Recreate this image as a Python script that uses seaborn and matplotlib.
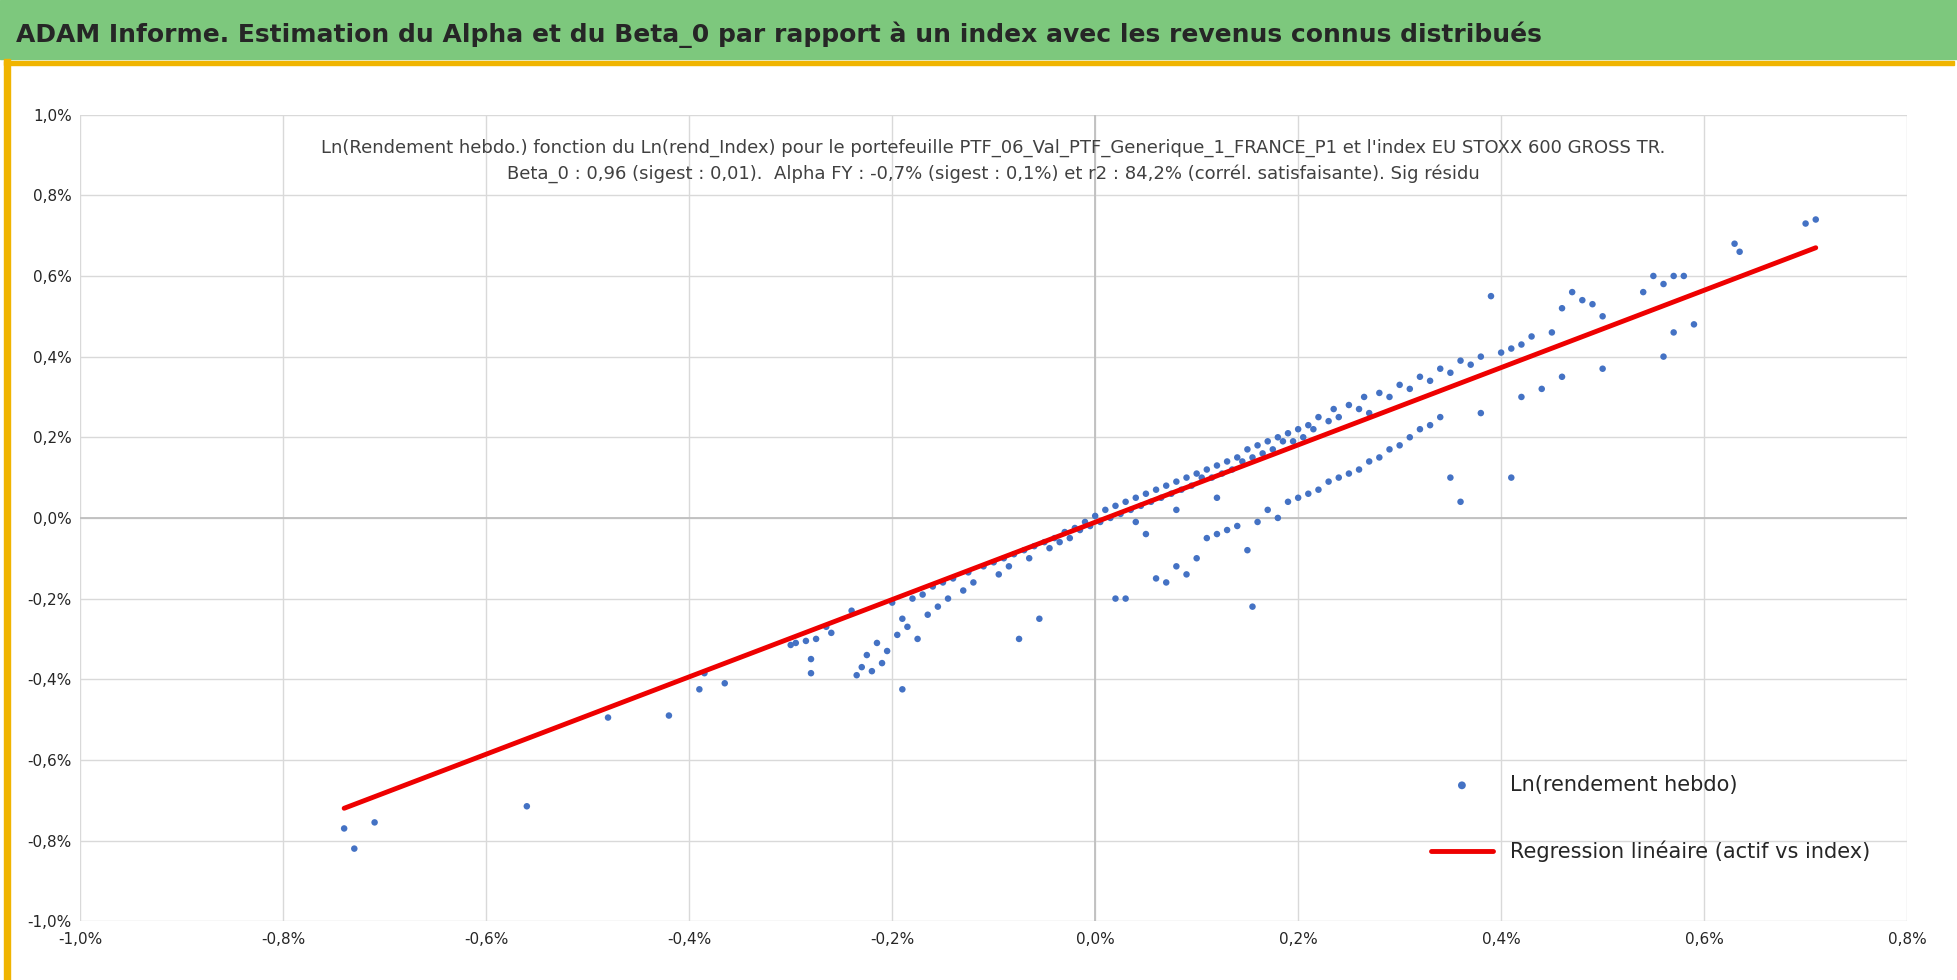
import matplotlib
matplotlib.use("Agg")
import matplotlib.pyplot as plt
import seaborn as sns
import pandas as pd
from matplotlib.ticker import FuncFormatter
from matplotlib.patches import Rectangle

# values in %
pts_x = [-0.74, -0.73, -0.71, -0.56, -0.48, -0.42, -0.39, -0.385, -0.365, -0.30, -0.295, -0.285, -0.28, -0.28, -0.275,
         -0.265, -0.26, -0.24, -0.235, -0.23, -0.225, -0.22, -0.215, -0.21, -0.205, -0.2, -0.195, -0.19, -0.19, -0.185,
         -0.18, -0.175, -0.17, -0.165, -0.16, -0.155, -0.15, -0.145, -0.14, -0.13, -0.125, -0.12, -0.11, -0.1, -0.095,
         -0.09, -0.085, -0.08, -0.075, -0.07, -0.065, -0.06, -0.055, -0.05, -0.045, -0.04, -0.035, -0.03, -0.025, -0.02,
         -0.015, -0.01, -0.005, 0.0, 0.005, 0.01, 0.015, 0.02, 0.02, 0.025, 0.03, 0.035, 0.04, 0.045, 0.05, 0.055, 0.06,
         0.065, 0.07, 0.075, 0.08, 0.085, 0.09, 0.095, 0.1, 0.105, 0.11, 0.115, 0.12, 0.125, 0.13, 0.135, 0.14, 0.145,
         0.15, 0.155, 0.16, 0.165, 0.17, 0.175, 0.18, 0.185, 0.19, 0.195, 0.2, 0.205, 0.21, 0.215, 0.22, 0.23, 0.235,
         0.24, 0.25, 0.26, 0.265, 0.27, 0.28, 0.29, 0.3, 0.31, 0.32, 0.33, 0.34, 0.35, 0.36, 0.37, 0.38, 0.39, 0.4, 0.41,
         0.42, 0.43, 0.45, 0.46, 0.47, 0.48, 0.49, 0.5, 0.54, 0.55, 0.56, 0.57, 0.58, 0.63, 0.635, 0.7, 0.71,
         0.03, 0.06, 0.07, 0.08, 0.09, 0.1, 0.11, 0.12, 0.13, 0.14, 0.15, 0.155, 0.16, 0.17, 0.18, 0.19, 0.2, 0.21, 0.22,
         0.23, 0.24, 0.25, 0.26, 0.27, 0.28, 0.29, 0.3, 0.31, 0.32, 0.33, 0.34, 0.35, 0.36, 0.38, 0.41, 0.42, 0.44, 0.46,
         0.5, 0.56, 0.57, 0.59, 0.04, 0.05, 0.08, 0.12]
pts_y = [-0.77, -0.82, -0.755, -0.715, -0.495, -0.49, -0.425, -0.385, -0.41, -0.315, -0.31, -0.305, -0.385, -0.35, -0.3,
         -0.27, -0.285, -0.23, -0.39, -0.37, -0.34, -0.38, -0.31, -0.36, -0.33, -0.21, -0.29, -0.425, -0.25, -0.27,
         -0.2, -0.3, -0.19, -0.24, -0.17, -0.22, -0.16, -0.2, -0.15, -0.18, -0.135, -0.16, -0.12, -0.11, -0.14,
         -0.1, -0.12, -0.09, -0.3, -0.08, -0.1, -0.07, -0.25, -0.06, -0.075, -0.05, -0.06, -0.035, -0.05, -0.025,
         -0.03, -0.01, -0.02, 0.005, -0.01, 0.02, 0.0, 0.03, -0.2, 0.01, 0.04, 0.02, 0.05, 0.03, 0.06, 0.04, 0.07,
         0.05, 0.08, 0.06, 0.09, 0.07, 0.1, 0.08, 0.11, 0.1, 0.12, 0.1, 0.13, 0.11, 0.14, 0.12, 0.15, 0.14,
         0.17, 0.15, 0.18, 0.16, 0.19, 0.17, 0.2, 0.19, 0.21, 0.19, 0.22, 0.2, 0.23, 0.22, 0.25, 0.24, 0.27,
         0.25, 0.28, 0.27, 0.3, 0.26, 0.31, 0.3, 0.33, 0.32, 0.35, 0.34, 0.37, 0.36, 0.39, 0.38, 0.4, 0.55, 0.41, 0.42,
         0.43, 0.45, 0.46, 0.52, 0.56, 0.54, 0.53, 0.5, 0.56, 0.6, 0.58, 0.6, 0.6, 0.68, 0.66, 0.73, 0.74,
         -0.2, -0.15, -0.16, -0.12, -0.14, -0.1, -0.05, -0.04, -0.03, -0.02, -0.08, -0.22, -0.01, 0.02, 0.0, 0.04, 0.05,
         0.06, 0.07, 0.09, 0.1, 0.11, 0.12, 0.14, 0.15, 0.17, 0.18, 0.2, 0.22, 0.23, 0.25, 0.1, 0.04, 0.26, 0.1, 0.3,
         0.32, 0.35, 0.37, 0.4, 0.46, 0.48, -0.01, -0.04, 0.02, 0.05]
reg_x = [-0.74, 0.71]
reg_y = [-0.72, 0.67]

sns.set_style("white")
plt.rcParams['font.family'] = ['Liberation Sans Narrow', 'DejaVu Sans']

fig = plt.figure(figsize=(19.58, 9.80), dpi=100)
fig.patches.append(Rectangle((0, 0.94), 1, 0.06, transform=fig.transFigure, color="#7dc87d", zorder=0))
fig.patches.append(Rectangle((0.002, 0.0), 0.003, 0.94, transform=fig.transFigure, color="#f0b400", zorder=0))
fig.patches.append(Rectangle((0.002, 0.934), 0.996, 0.004, transform=fig.transFigure, color="#f0b400", zorder=0))
fig.text(0.008, 0.965, "ADAM Informe. Estimation du Alpha et du Beta_0 par rapport à un index avec les revenus connus distribués",
         fontsize=18, fontweight="bold", va="center")

ax = fig.add_axes([0.041, 0.06, 0.933, 0.823])
df = pd.DataFrame({"x": pts_x, "y": pts_y})
sns.scatterplot(data=df, x="x", y="y", ax=ax, color="#4472c4", s=22, edgecolor="none",
                label="Ln(rendement hebdo)", zorder=3)
sns.lineplot(x=reg_x, y=reg_y, ax=ax, color="#ee0000", lw=3.5, label="Regression linéaire (actif vs index)", zorder=4)

ax.set_xlim(-1.0, 0.8)
ax.set_ylim(-1.0, 1.0)
ax.set_xticks([-1.0, -0.8, -0.6, -0.4, -0.2, 0.0, 0.2, 0.4, 0.6, 0.8])
ax.set_yticks([-1.0, -0.8, -0.6, -0.4, -0.2, 0.0, 0.2, 0.4, 0.6, 0.8, 1.0])
fmt = FuncFormatter(lambda v, p: f"{v:.1f}%".replace(".", ","))
ax.xaxis.set_major_formatter(fmt)
ax.yaxis.set_major_formatter(fmt)
ax.tick_params(axis="x", labelsize=11, length=0, pad=8)
ax.tick_params(axis="y", labelsize=11, length=0, pad=6)
ax.grid(True, color="#d9d9d9", lw=1)
ax.axhline(0, color="#bfbfbf", lw=1.3, zorder=1)
ax.axvline(0, color="#bfbfbf", lw=1.3, zorder=1)
for s in ax.spines.values():
    s.set_visible(False)
ax.set_xlabel("")
ax.set_ylabel("")
ax.set_title("Ln(Rendement hebdo.) fonction du Ln(rend_Index) pour le portefeuille PTF_06_Val_PTF_Generique_1_FRANCE_P1 et l'index EU STOXX 600 GROSS TR.\n"
             "Beta_0 : 0,96 (sigest : 0,01).  Alpha FY : -0,7% (sigest : 0,1%) et r2 : 84,2% (corrél. satisfaisante). Sig résidu",
             fontsize=13, color="#404040", linespacing=1.5, pad=-46)
ax.legend(loc="lower right", bbox_to_anchor=(0.99, 0.05), frameon=False, fontsize=15, labelspacing=2.2,
          markerscale=1.2, handlelength=3)

fig.savefig("out.png", dpi=100)
